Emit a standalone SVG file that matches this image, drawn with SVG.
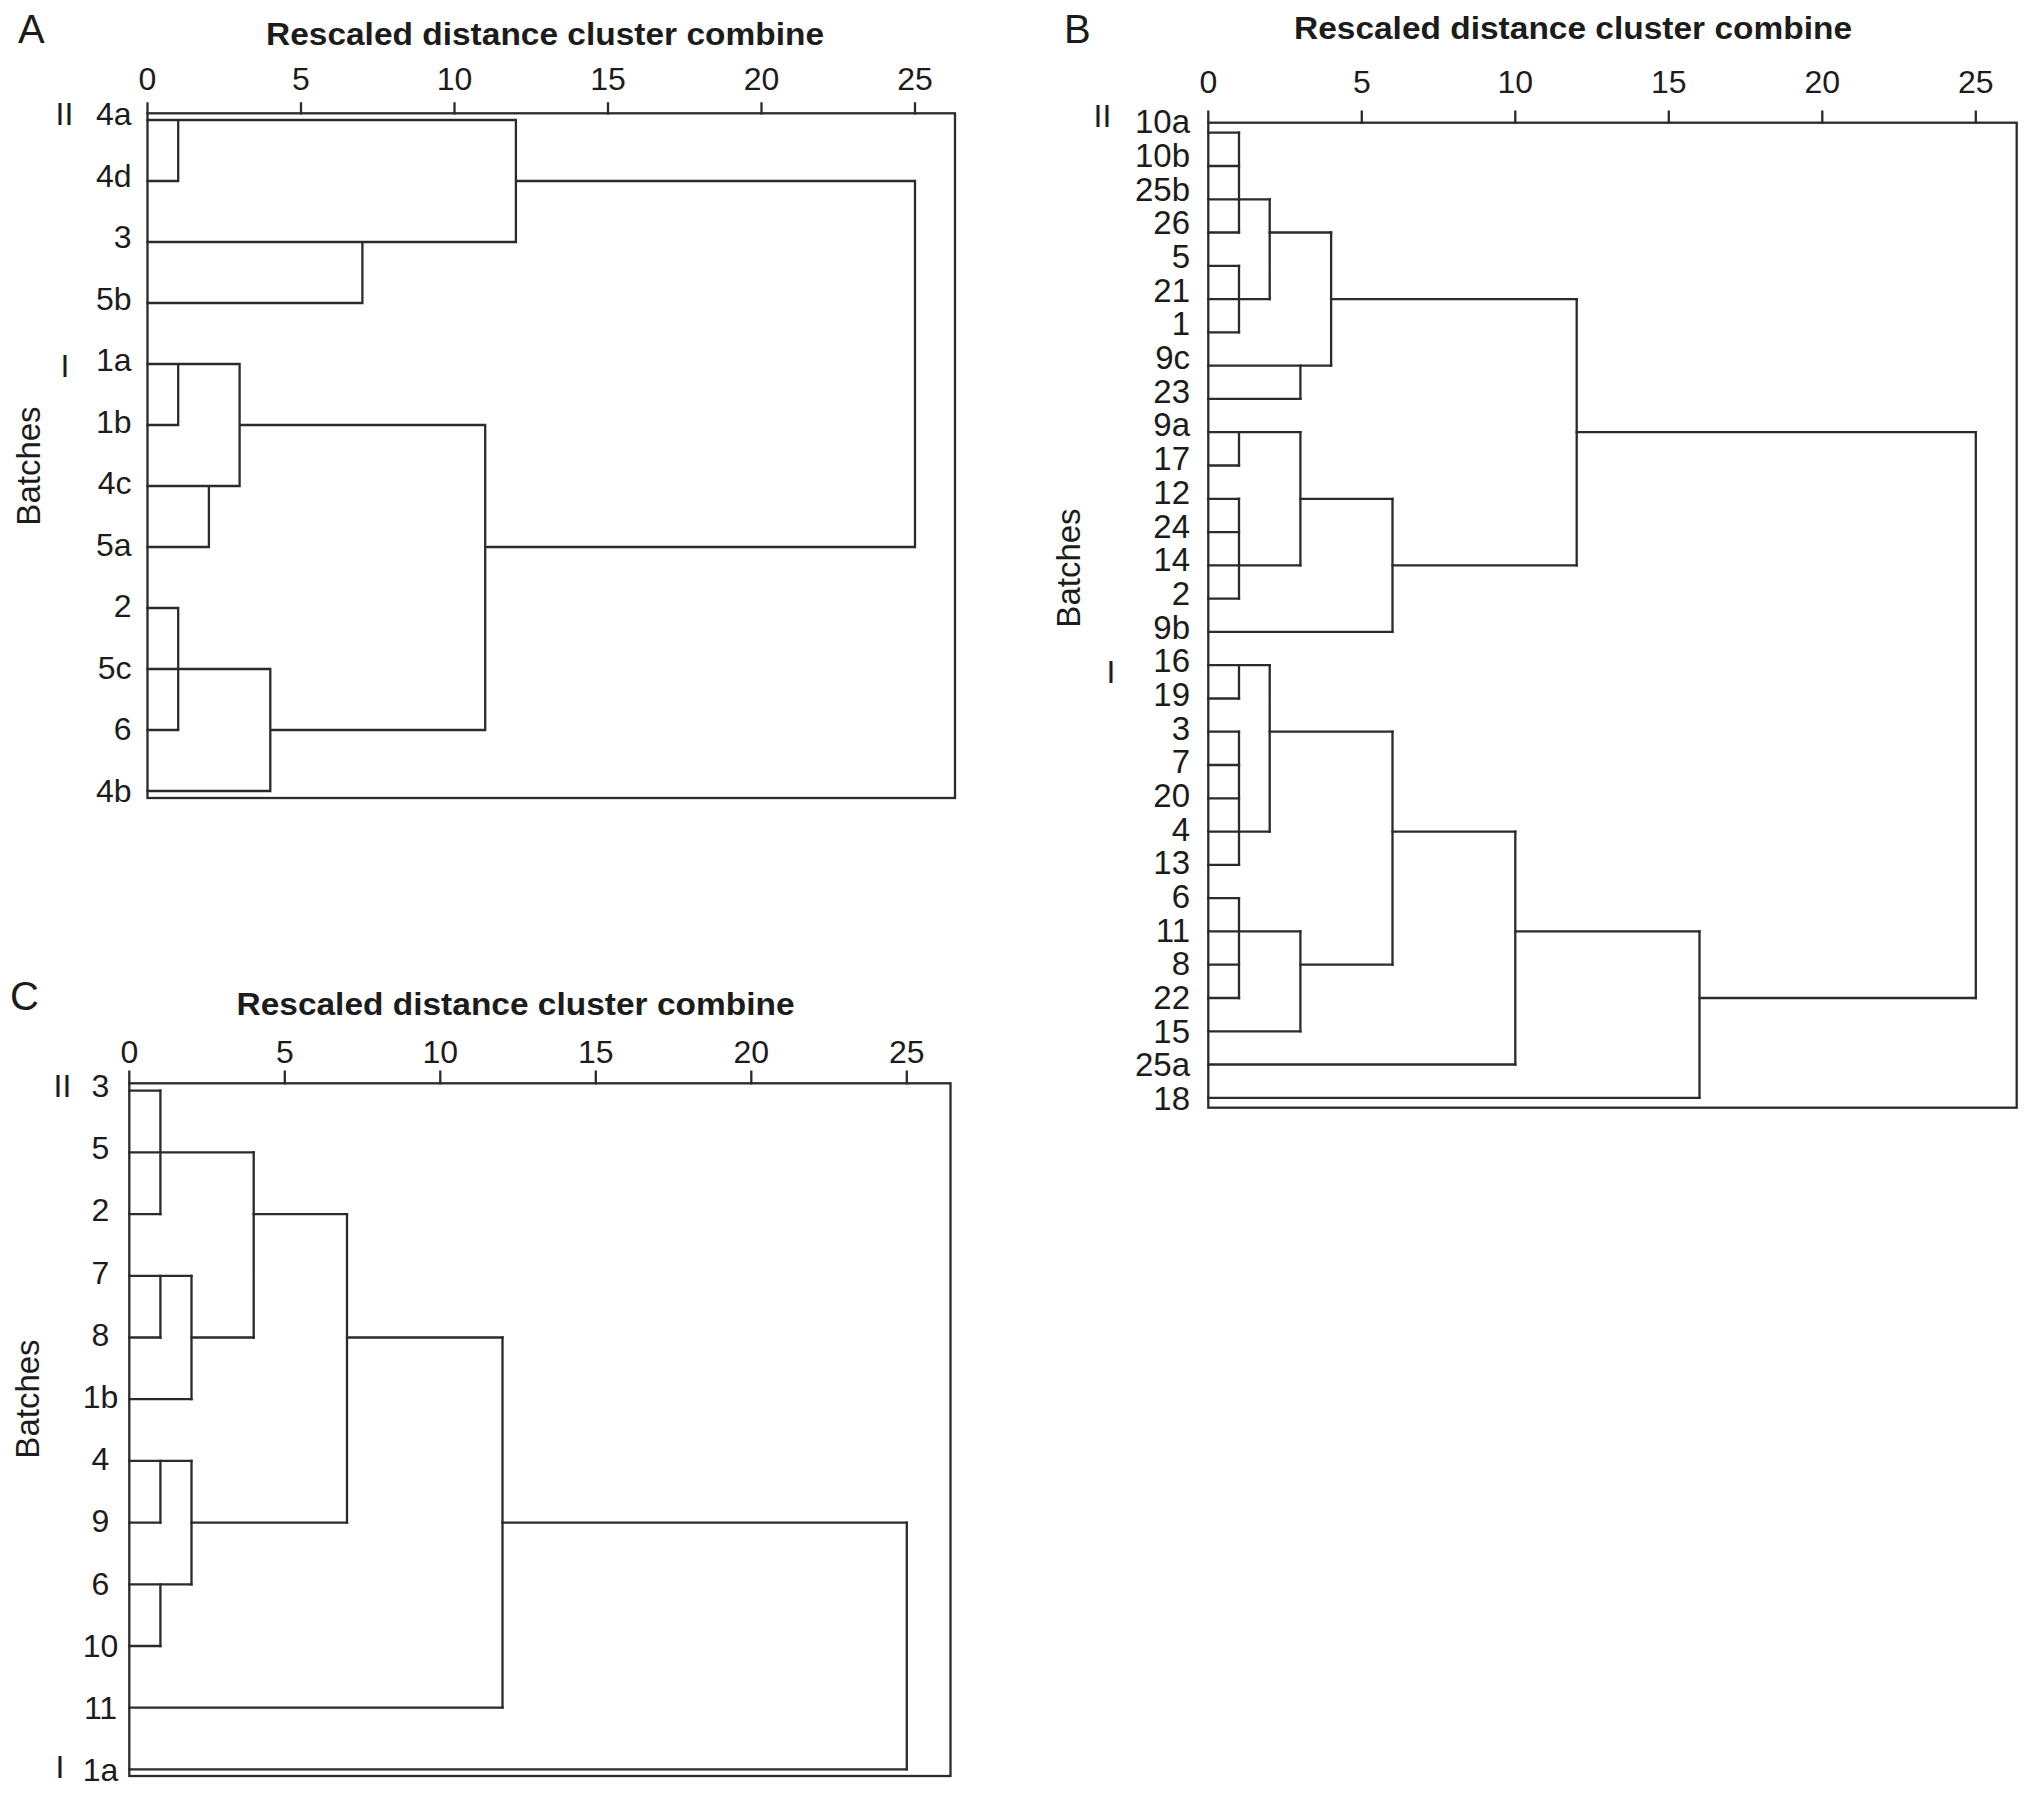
<svg xmlns="http://www.w3.org/2000/svg" width="2031" height="1801" viewBox="0 0 2031 1801">
<style>
.ln{stroke:#2b2b2b;stroke-width:2.3;fill:none;stroke-linecap:square}
.fr{stroke:#2b2b2b;stroke-width:2.3;fill:none}
text{font-family:"Liberation Sans",Arial,sans-serif;fill:#1c1c1c}
.pl{font-size:40px}
.tt{font-size:31px;font-weight:bold}
.tk{font-size:32px;text-anchor:middle}
.lb{font-size:32px;text-anchor:end}
.lbB{font-size:33px;text-anchor:end}
.lbC{font-size:32px;text-anchor:middle}
.gr{font-size:32px;text-anchor:middle}
.ax{font-size:33px;text-anchor:middle}
</style>
<rect width="2031" height="1801" fill="#ffffff"/>

<!-- Panel A -->
<g id="panelA">
  <text class="pl" x="18" y="42.7">A</text>
  <text class="tt" x="266" y="45" textLength="558" lengthAdjust="spacingAndGlyphs">Rescaled distance cluster combine</text>
  <g id="axisA">
    <rect class="fr" x="147.5" y="113.3" width="807.5" height="684.7"/>
    <path class="ln" d="M147.5 103.3V113.3M301 103.3V113.3M454.5 103.3V113.3M608 103.3V113.3M761.5 103.3V113.3M915 103.3V113.3"/>
    <text class="tk" x="147.5" y="90">0</text>
    <text class="tk" x="301" y="90">5</text>
    <text class="tk" x="454.5" y="90">10</text>
    <text class="tk" x="608" y="90">15</text>
    <text class="tk" x="761.5" y="90">20</text>
    <text class="tk" x="915" y="90">25</text>
    <text class="ax" transform="translate(40 466) rotate(-90)">Batches</text>
    <text class="gr" x="64.5" y="125">II</text>
    <text class="gr" x="65" y="377">I</text>
  </g>
  <g id="leavesA">
    <g id="A-4a"><text class="lb" x="131.5" y="125">4a</text></g>
    <g id="A-4d"><text class="lb" x="131.5" y="186.5">4d</text></g>
    <g id="A-3"><text class="lb" x="131.5" y="248">3</text></g>
    <g id="A-5b"><text class="lb" x="131.5" y="309.5">5b</text></g>
    <g id="A-1a"><text class="lb" x="131.5" y="371">1a</text></g>
    <g id="A-1b"><text class="lb" x="131.5" y="432.5">1b</text></g>
    <g id="A-4c"><text class="lb" x="131.5" y="494">4c</text></g>
    <g id="A-5a"><text class="lb" x="131.5" y="555.5">5a</text></g>
    <g id="A-2"><text class="lb" x="131.5" y="617">2</text></g>
    <g id="A-5c"><text class="lb" x="131.5" y="678.5">5c</text></g>
    <g id="A-6"><text class="lb" x="131.5" y="740">6</text></g>
    <g id="A-4b"><text class="lb" x="131.5" y="801.5">4b</text></g>
  </g>
  <g id="connectorsA">
    <path class="ln" d="M147.5 120H515.9M178.2 120V181M147.5 181H178.2M515.9 181H915M515.9 120V242M147.5 242H515.9M147.5 303H362.4M362.4 242V303M147.5 364H239.6M178.2 364V425M147.5 425H178.2M239.6 425H485.2M239.6 364V486M147.5 486H239.6M147.5 547H208.9M485.2 547H915M208.9 486V547M147.5 608H178.2M178.2 608V730M147.5 669H270.3M147.5 730H178.2M270.3 730H485.2M270.3 669V791M147.5 791H270.3M485.2 425V730M915 181V547"/>
  </g>
</g>

<!-- Panel B -->
<g id="panelB">
  <text class="pl" x="1064" y="43.3">B</text>
  <text class="tt" x="1294" y="39.3" textLength="558" lengthAdjust="spacingAndGlyphs">Rescaled distance cluster combine</text>
  <g id="axisB">
    <rect class="fr" x="1208.3" y="122.7" width="808.4" height="985"/>
    <path class="ln" d="M1208.3 111.7V122.7M1361.8 111.7V122.7M1515.3 111.7V122.7M1668.8 111.7V122.7M1822.3 111.7V122.7M1975.8 111.7V122.7"/>
    <text class="tk" x="1208.3" y="93.3">0</text>
    <text class="tk" x="1361.8" y="93.3">5</text>
    <text class="tk" x="1515.3" y="93.3">10</text>
    <text class="tk" x="1668.8" y="93.3">15</text>
    <text class="tk" x="1822.3" y="93.3">20</text>
    <text class="tk" x="1975.8" y="93.3">25</text>
    <text class="ax" transform="translate(1080 568) rotate(-90)">Batches</text>
    <text class="gr" x="1102.5" y="127">II</text>
    <text class="gr" x="1111" y="683">I</text>
  </g>
  <g id="leavesB">
    <g id="B-10a"><text class="lbB" x="1190" y="133.3">10a</text></g>
    <g id="B-10b"><text class="lbB" x="1190" y="167">10b</text></g>
    <g id="B-25b"><text class="lbB" x="1190" y="200.7">25b</text></g>
    <g id="B-26"><text class="lbB" x="1190" y="234.3">26</text></g>
    <g id="B-5"><text class="lbB" x="1190" y="268">5</text></g>
    <g id="B-21"><text class="lbB" x="1190" y="301.7">21</text></g>
    <g id="B-1"><text class="lbB" x="1190" y="335.4">1</text></g>
    <g id="B-9c"><text class="lbB" x="1190" y="369.1">9c</text></g>
    <g id="B-23"><text class="lbB" x="1190" y="402.7">23</text></g>
    <g id="B-9a"><text class="lbB" x="1190" y="436.4">9a</text></g>
    <g id="B-17"><text class="lbB" x="1190" y="470.1">17</text></g>
    <g id="B-12"><text class="lbB" x="1190" y="503.8">12</text></g>
    <g id="B-24"><text class="lbB" x="1190" y="537.5">24</text></g>
    <g id="B-14"><text class="lbB" x="1190" y="571.1">14</text></g>
    <g id="B-2"><text class="lbB" x="1190" y="604.8">2</text></g>
    <g id="B-9b"><text class="lbB" x="1190" y="638.5">9b</text></g>
    <g id="B-16"><text class="lbB" x="1190" y="672.2">16</text></g>
    <g id="B-19"><text class="lbB" x="1190" y="705.9">19</text></g>
    <g id="B-3"><text class="lbB" x="1190" y="739.5">3</text></g>
    <g id="B-7"><text class="lbB" x="1190" y="773.2">7</text></g>
    <g id="B-20"><text class="lbB" x="1190" y="806.9">20</text></g>
    <g id="B-4"><text class="lbB" x="1190" y="840.6">4</text></g>
    <g id="B-13"><text class="lbB" x="1190" y="874.3">13</text></g>
    <g id="B-6"><text class="lbB" x="1190" y="907.9">6</text></g>
    <g id="B-11"><text class="lbB" x="1190" y="941.6">11</text></g>
    <g id="B-8"><text class="lbB" x="1190" y="975.3">8</text></g>
    <g id="B-22"><text class="lbB" x="1190" y="1009">22</text></g>
    <g id="B-15"><text class="lbB" x="1190" y="1042.7">15</text></g>
    <g id="B-25a"><text class="lbB" x="1190" y="1076.3">25a</text></g>
    <g id="B-18"><text class="lbB" x="1190" y="1110">18</text></g>
  </g>
  <g id="connectorsB">
    <path class="ln" d="M1208.3 132.7H1239M1208.3 166H1239M1208.3 199.3H1269.7M1208.3 232.5H1239M1269.7 232.5H1331.1M1208.3 265.8H1239M1208.3 299.1H1269.7M1331.1 299.1H1576.7M1208.3 332.4H1239M1208.3 365.7H1331.1M1208.3 398.9H1300.4M1208.3 432.2H1300.4M1576.7 432.2H1975.8M1208.3 465.5H1239M1208.3 498.8H1239M1300.4 498.8H1392.5M1208.3 532.1H1239M1208.3 565.3H1300.4M1392.5 565.3H1576.7M1208.3 598.6H1239M1208.3 631.9H1392.5M1208.3 665.2H1269.7M1208.3 698.5H1239M1208.3 731.7H1239M1269.7 731.7H1392.5M1208.3 765H1239M1208.3 798.3H1239M1208.3 831.6H1269.7M1392.5 831.6H1515.3M1208.3 864.9H1239M1208.3 898.1H1239M1208.3 931.4H1300.4M1515.3 931.4H1699.5M1208.3 964.7H1239M1300.4 964.7H1392.5M1208.3 998H1239M1699.5 998H1975.8M1208.3 1031.3H1300.4M1208.3 1064.5H1515.3M1208.3 1097.8H1699.5"/>
    <path class="ln" d="M1239 132.7V232.5M1239 265.8V332.4M1239 432.2V465.5M1239 498.8V598.6M1239 665.2V698.5M1239 731.7V864.9M1239 898.1V998M1269.7 199.3V299.1M1269.7 665.2V831.6M1300.4 365.7V398.9M1300.4 432.2V565.3M1300.4 931.4V1031.3M1331.1 232.5V365.7M1392.5 498.8V631.9M1392.5 731.7V964.7M1515.3 831.6V1064.5M1576.7 299.1V565.3M1699.5 931.4V1097.8M1975.8 432.2V998"/>
  </g>
</g>

<!-- Panel C -->
<g id="panelC">
  <text class="pl" x="10" y="1010">C</text>
  <text class="tt" x="236.5" y="1015" textLength="558" lengthAdjust="spacingAndGlyphs">Rescaled distance cluster combine</text>
  <g id="axisC">
    <rect class="fr" x="129.3" y="1083.3" width="821.2" height="692.7"/>
    <path class="ln" d="M129.3 1071.7V1083.3M284.8 1071.7V1083.3M440.3 1071.7V1083.3M595.8 1071.7V1083.3M751.3 1071.7V1083.3M906.8 1071.7V1083.3"/>
    <text class="tk" x="129.3" y="1063.3">0</text>
    <text class="tk" x="284.8" y="1063.3">5</text>
    <text class="tk" x="440.3" y="1063.3">10</text>
    <text class="tk" x="595.8" y="1063.3">15</text>
    <text class="tk" x="751.3" y="1063.3">20</text>
    <text class="tk" x="906.8" y="1063.3">25</text>
    <text class="ax" transform="translate(39 1399) rotate(-90)">Batches</text>
    <text class="gr" x="62.5" y="1097">II</text>
    <text class="gr" x="60" y="1778">I</text>
  </g>
  <g id="leavesC">
    <g id="C-3"><text class="lbC" x="100.5" y="1097">3</text></g>
    <g id="C-5"><text class="lbC" x="100.5" y="1159.2">5</text></g>
    <g id="C-2"><text class="lbC" x="100.5" y="1221.4">2</text></g>
    <g id="C-7"><text class="lbC" x="100.5" y="1283.6">7</text></g>
    <g id="C-8"><text class="lbC" x="100.5" y="1345.8">8</text></g>
    <g id="C-1b"><text class="lbC" x="100.5" y="1408">1b</text></g>
    <g id="C-4"><text class="lbC" x="100.5" y="1470.2">4</text></g>
    <g id="C-9"><text class="lbC" x="100.5" y="1532.4">9</text></g>
    <g id="C-6"><text class="lbC" x="100.5" y="1594.6">6</text></g>
    <g id="C-10"><text class="lbC" x="100.5" y="1656.8">10</text></g>
    <g id="C-11"><text class="lbC" x="100.5" y="1719">11</text></g>
    <g id="C-1a"><text class="lbC" x="100.5" y="1781.2">1a</text></g>
  </g>
  <g id="connectorsC">
    <path class="ln" d="M129.3 1090.7H160.4M129.3 1152.4H253.7M129.3 1214.1H160.4M253.7 1214.1H347M129.3 1275.8H191.5M129.3 1337.5H160.4M191.5 1337.5H253.7M347 1337.5H502.5M129.3 1399.2H191.5M129.3 1460.9H191.5M129.3 1522.6H160.4M191.5 1522.6H347M502.5 1522.6H906.8M129.3 1584.3H191.5M129.3 1646H160.4M129.3 1707.7H502.5M129.3 1769.4H906.8"/>
    <path class="ln" d="M160.4 1090.7V1214.1M160.4 1275.8V1337.5M160.4 1460.9V1522.6M160.4 1584.3V1646M191.5 1275.8V1399.2M191.5 1460.9V1584.3M253.7 1152.4V1337.5M347 1214.1V1522.6M502.5 1337.5V1707.7M906.8 1522.6V1769.4"/>
  </g>
</g>
</svg>
